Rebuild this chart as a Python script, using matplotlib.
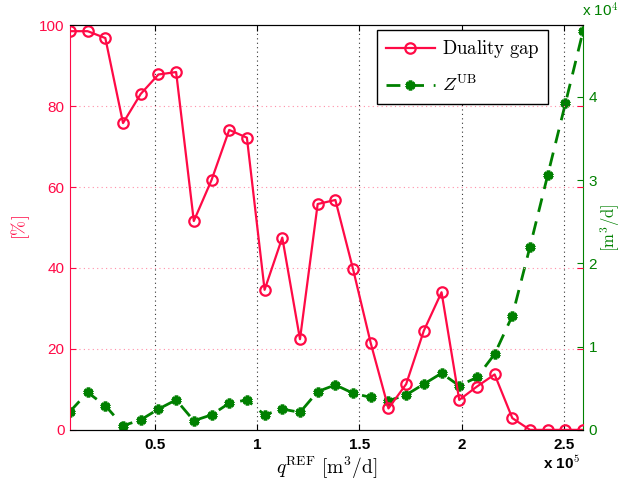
import matplotlib
matplotlib.use('Agg')
import matplotlib.pyplot as plt
import numpy as np

plt.rcParams['mathtext.fontset'] = 'cm'
plt.rcParams['font.family'] = ['Liberation Sans', 'DejaVu Sans']

# data: q^REF in m3/d, gap in %, Z^UB in m3/d
q = np.arange(1, 31) * 8640.0
gap = [98.5, 98.5, 96.8, 75.8, 83.0, 87.8, 88.4, 51.6, 61.7, 74.1,
       72.2, 34.6, 47.5, 22.4, 55.8, 56.8, 39.7, 21.4, 5.3, 11.3,
       24.5, 34.0, 7.4, 10.7, 13.7, 2.9, 0.0, 0.0, 0.0, 0.0]
zub = [2200, 4500, 2900, 500, 1200, 2500, 3600, 1100, 1800, 3200,
       3600, 1800, 2500, 2100, 4600, 5400, 4400, 3900, 3500, 4200,
       5500, 6800, 5300, 6300, 9100, 13700, 22000, 30600, 39200, 47900]

red = '#FF0A46'
green = '#008000'

fig = plt.figure(figsize=(6.19, 4.83), dpi=100)
ax1 = fig.add_axes([0.113, 0.110, 0.829, 0.838])
ax2 = ax1.twinx()

x = q / 1e5
l1, = ax1.plot(x, gap, '-', color=red, lw=1.6, marker='o', ms=7.5,
               mfc='none', mec=red, mew=1.6, label=r'$\mathrm{Duality\ gap}$')
l2, = ax2.plot(x, np.array(zub) / 1e4, '--', color=green, lw=2.0,
               dashes=(5, 3.5), marker=(6, 2, 0), ms=7, mec=green, mew=2.6,
               label=r'$Z^{\mathrm{UB}}$')

ax1.set_xlim(0.0864, 2.592)
ax1.set_ylim(0, 100)
ax2.set_ylim(0, 4.86)
ax1.set_xticks([0.5, 1, 1.5, 2, 2.5])
ax1.set_xticklabels(['0.5', '1', '1.5', '2', '2.5'])
ax1.set_yticks([0, 20, 40, 60, 80, 100])
ax2.set_yticks([0, 1, 2, 3, 4])
ax2.set_yticklabels(['0', '1', '2', '3', '4'])

# grid
for xv in [0.5, 1, 1.5, 2, 2.5]:
    ax1.axvline(xv, color='#333333', ls=(0, (1, 3)), lw=0.8, zorder=0)
for yv in [20, 40, 60, 80]:
    ax1.axhline(yv, color='#FF8FA8', ls=(0, (1, 3)), lw=0.8, zorder=0)

ax1.tick_params(axis='x', direction='in', top=True, labelsize=11,
                length=4, width=0.8, colors='black', pad=6)
ax1.tick_params(axis='y', direction='in', right=True, labelsize=11,
                length=4, width=0.8, colors=red, pad=4)
ax2.tick_params(axis='y', direction='in', labelsize=11, length=4,
                width=0.8, colors=green, pad=4)
for lab in ax1.get_xticklabels():
    lab.set_fontweight('bold')

ax1.spines['left'].set_color(red)
ax2.spines['left'].set_visible(False)
ax1.spines['right'].set_visible(False)
ax2.spines['right'].set_color(green)
for s in ['top', 'bottom']:
    ax1.spines[s].set_color('black')
    ax2.spines[s].set_color('black')

ax1.set_xlabel(r'$q^{\mathrm{REF}}\ [\mathrm{m}^3/\mathrm{d}]$', fontsize=14,
               labelpad=2)
ax1.set_ylabel(r'$[\%]$', fontsize=13, color=red)
ax1.yaxis.set_label_coords(-0.074, 0.5)
ax2.set_ylabel(r'$[\mathrm{m}^3/\mathrm{d}]$', fontsize=12, color=green,
               rotation=90)
ax2.yaxis.set_label_coords(1.029, 0.5)

fig.text(0.878, 0.028, r'x 10$^5$', fontsize=11, fontweight='bold')
fig.text(0.94, 0.965, r'x 10$^4$', fontsize=11, color=green)

leg = ax1.legend(handles=[l1, l2], loc='upper right',
                 bbox_to_anchor=(0.932, 0.988), borderaxespad=0,
                 fontsize=13.5, fancybox=False, framealpha=1,
                 edgecolor='black', handlelength=2.6, handletextpad=0.4,
                 borderpad=0.45, labelspacing=0.75)
leg.get_frame().set_linewidth(1.0)
ax1.set_zorder(ax2.get_zorder() + 1)
ax1.patch.set_visible(False)

fig.savefig('out.png', dpi=100)
